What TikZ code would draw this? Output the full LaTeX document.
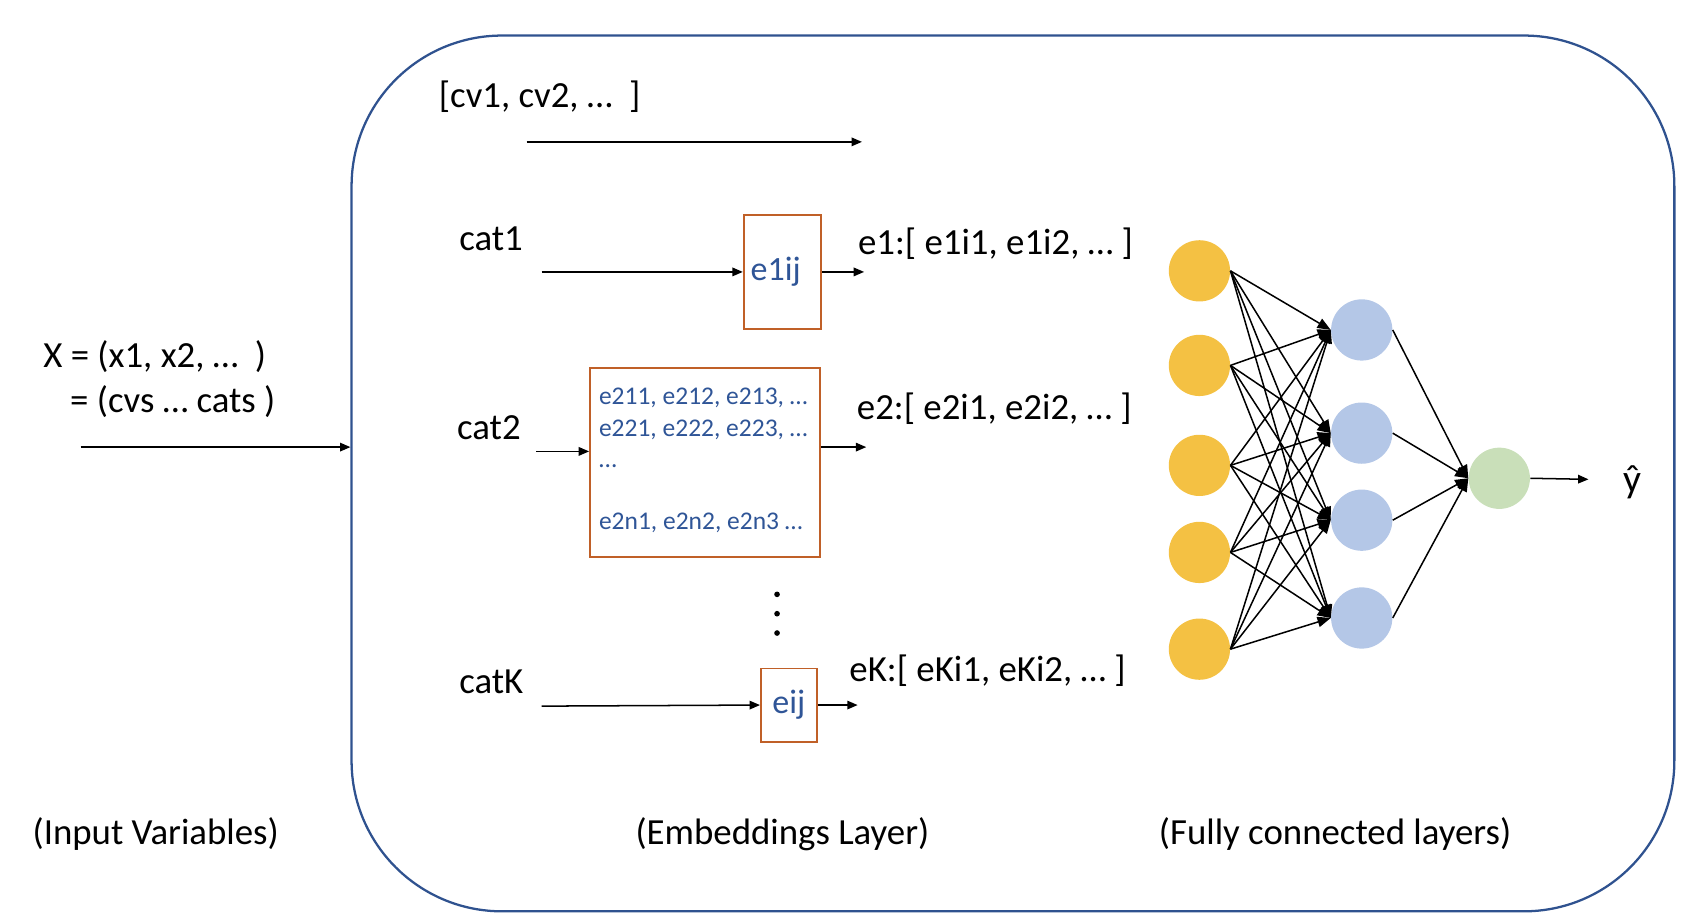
\documentclass[tikz,border=0pt]{standalone}
\usepackage{fontspec}
\setmainfont{Carlito}
\usetikzlibrary{arrows.meta}
\definecolor{framblue}{RGB}{47,82,143}
\definecolor{embbrown}{RGB}{192,96,40}
\definecolor{embtext}{RGB}{47,85,151}
\definecolor{inyellow}{RGB}{244,193,67}
\definecolor{hidblue}{RGB}{180,199,231}
\definecolor{outgreen}{RGB}{201,223,185}

\begin{document}
\begin{tikzpicture}[x=0.02cm,y=-0.02cm,
    txt/.style={font=\fontsize{19.5}{22}\selectfont,inner sep=0pt,anchor=west},
    embbox/.style={draw=embbrown,line width=1pt,inner sep=0pt,text=embtext},
    arr/.style={-{Triangle[length=5.5pt,width=4.5pt]},line width=0.8pt},
    netarr/.style={-{Triangle[length=7pt,width=5.5pt]},line width=0.8pt},
    neuron/.style={circle,minimum size=1.14cm,inner sep=0pt}]
  \useasboundingbox (0,0) rectangle (1565,852);
  % outer frame
  \node[draw=framblue,line width=1.2pt,rounded corners=2.8cm,minimum width=24.62cm,minimum height=16.3cm] (frame) at (942.5,440.5) {};

  % input
  \node[txt] (xin) at (40,332) {X = (x1, x2, …\ \ )};
  \node[txt] (xcv) at (65,374) {= (cvs … cats )};
  \coordinate (xs) at (75,416);
  \draw[arr] (xs) -- (frame.west |- xs);

  % continuous variables
  \node[txt] (cv) at (408,90) {[cv1, cv2, …\ \ ]};
  \coordinate (cvs) at (490,132);
  \coordinate (cve) at (802,132);
  \draw[arr] (cvs) -- (cve);

  % categorical embeddings
  \node[txt] (cat1) at (427,222) {cat1};
  \node[embbox,minimum width=1.44cm,minimum height=2.12cm,font=\fontsize{18}{20}\selectfont] (e1) at (728,253) {e1ij\kern0.25cm};
  \node[txt] (e1v) at (798,227) {e1:[ e1i1, e1i2, … ]};
  \coordinate (c1s) at (504,253);
  \coordinate (e1e) at (804,253);
  \draw[arr] (c1s) -- (e1.west);
  \draw[arr] (e1.east) -- (e1e);

  \node[txt] (cat2) at (425,398) {cat2};
  \node[embbox,minimum width=4.28cm,minimum height=3.52cm] (e2) at (656,430) {};
  \node[anchor=north west,align=left,inner sep=0pt,text=embtext,font=\fontsize{13.5}{16.5}\selectfont] (e2tab) at (557,361)
    {e211, e212, e213, …\\e221, e222, e223, …\\…\\[16.5pt]e2n1, e2n2, e2n3 …};
  \node[txt] (e2v) at (797,380) {e2:[ e2i1, e2i2, … ]};
  \coordinate (c2s) at (499,420);
  \coordinate (e2e) at (806,416);
  \draw[arr] (c2s) -- (e2.west |- c2s);
  \draw[arr] (e2.east |- e2e) -- (e2e);

  % vertical dots
  \foreach \dy in {553,571,589}
    \fill (723,\dy) circle[radius=1.5pt];

  \node[txt] (catK) at (427,634) {catK};
  \node[embbox,minimum width=1.04cm,minimum height=1.36cm,font=\fontsize{18}{20}\selectfont] (eK) at (734,656) {eij};
  \node[txt] (eKv) at (790,624) {eK:[ eKi1, eKi2, … ]};
  \coordinate (cKs) at (504,657);
  \coordinate (eKe) at (798,656);
  \draw[arr] (cKs) -- (eK.west);
  \draw[arr] (eK.east) -- (eKe);

  % layer names
  \node[txt] (linp) at (30,776) {(Input Variables)};
  \node[txt] (lemb) at (591,776) {(Embeddings Layer)};
  \node[txt] (lfc) at (1078,776) {(Fully connected layers)};

  % network
  \foreach \i/\yy in {1/252,2/340,3/433,4/514,5/604}
    \node[neuron,fill=inyellow] (in\i) at (1116,\yy) {};
  \foreach \j/\yy in {1/307,2/403,3/484,4/575}
    \node[neuron,fill=hidblue] (hid\j) at (1267,\yy) {};
  \node[neuron,fill=outgreen] (out) at (1395,445) {};
  \node[font=\fontsize{21}{22}\selectfont,inner sep=0pt] (yhat) at (1519,449) {\^{y}};
  \coordinate (oute) at (1478,446);

  \foreach \i in {1,...,5}
    \foreach \j in {1,...,4}
      \draw[netarr] (in\i.east) -- (hid\j.west);
  \foreach \j in {1,...,4}
    \draw[netarr] (hid\j.east) -- (out.west);
  \draw[arr] (out.east) -- (oute);
\end{tikzpicture}
\end{document}
